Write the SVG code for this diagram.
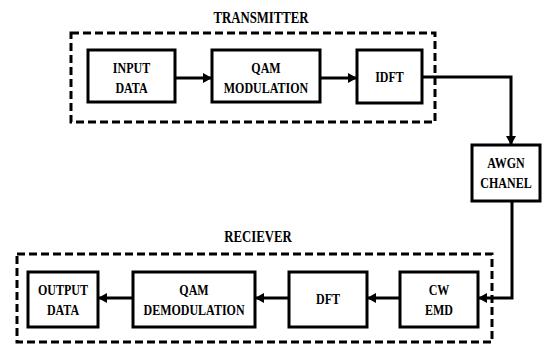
<svg xmlns="http://www.w3.org/2000/svg" width="543" height="345" viewBox="0 0 543 345">
<style>
.box{fill:#fff;stroke:#000;stroke-width:3}
.grp{fill:none;stroke:#000;stroke-width:3;stroke-dasharray:8 4}
text{font-family:'Liberation Serif','DejaVu Serif',serif;font-weight:bold;font-size:15px;text-anchor:middle;fill:#000}
.h{font-size:16px}
.c{fill:none;stroke:#000;stroke-width:3}
</style>
<defs>
<marker id="ah" markerWidth="10" markerHeight="10" refX="8" refY="5" orient="auto" markerUnits="userSpaceOnUse">
<path d="M0,0 L9,5 L0,10 Z" fill="#000"/>
</marker>
</defs>
<rect width="543" height="345" fill="#fff"/>
<g id="transmitter">
<rect class="grp" x="71" y="33" width="364" height="89"/>
<text class="h" transform="translate(261 23) scale(0.8 1)">TRANSMITTER</text>
</g>
<g id="receiver">
<rect class="grp" x="17" y="254" width="475" height="88"/>
<text class="h" transform="translate(258 242) scale(0.8 1)">RECIEVER</text>
</g>
<g id="connectors">
<line class="c" x1="175" y1="78" x2="211" y2="78" marker-end="url(#ah)"/>
<line class="c" x1="320" y1="78" x2="356" y2="78" marker-end="url(#ah)"/>
<polyline class="c" points="422,77 511,77 511,144" marker-end="url(#ah)"/>
<polyline class="c" points="512,201 512,298 479,298" marker-end="url(#ah)"/>
<line class="c" x1="400" y1="298" x2="368" y2="298" marker-end="url(#ah)"/>
<line class="c" x1="289" y1="298" x2="256" y2="298" marker-end="url(#ah)"/>
<line class="c" x1="133" y1="298" x2="99" y2="298" marker-end="url(#ah)"/>
</g>
<g id="input-data">
<rect class="box" x="88" y="50" width="87" height="52"/>
<text transform="translate(131.5 73) scale(0.8 1)">INPUT</text>
<text transform="translate(131.5 93) scale(0.8 1)">DATA</text>
</g>
<g id="qam-modulation">
<rect class="box" x="212" y="50" width="108" height="52"/>
<text transform="translate(266 73) scale(0.8 1)">QAM</text>
<text transform="translate(266 93) scale(0.8 1)">MODULATION</text>
</g>
<g id="idft">
<rect class="box" x="357" y="50" width="65" height="53"/>
<text transform="translate(389.5 82) scale(0.8 1)">IDFT</text>
</g>
<g id="awgn">
<rect class="box" x="472" y="145" width="68" height="56"/>
<text transform="translate(506 168) scale(0.8 1)">AWGN</text>
<text transform="translate(506 188) scale(0.8 1)">CHANEL</text>
</g>
<g id="cw-emd">
<rect class="box" x="400" y="272" width="78" height="55"/>
<text transform="translate(439 295) scale(0.8 1)">CW</text>
<text transform="translate(439 315) scale(0.8 1)">EMD</text>
</g>
<g id="dft">
<rect class="box" x="289" y="272" width="78" height="55"/>
<text transform="translate(328 304) scale(0.8 1)">DFT</text>
</g>
<g id="qam-demodulation">
<rect class="box" x="133" y="272" width="122" height="55"/>
<text transform="translate(194 295) scale(0.8 1)">QAM</text>
<text transform="translate(194 315) scale(0.8 1)">DEMODULATION</text>
</g>
<g id="output-data">
<rect class="box" x="28" y="272" width="70" height="55"/>
<text transform="translate(63 295) scale(0.8 1)">OUTPUT</text>
<text transform="translate(63 315) scale(0.8 1)">DATA</text>
</g>
</svg>
